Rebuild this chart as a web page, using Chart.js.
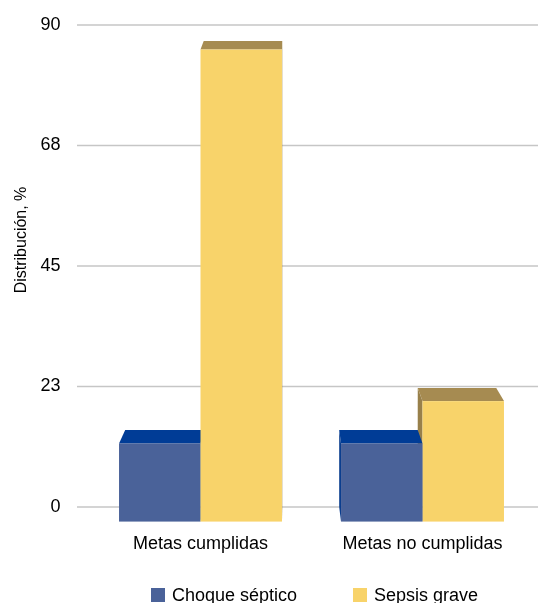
<!DOCTYPE html>
<html lang="es">
  <head>
    <meta charset="UTF-8" />
    <title>Distribución</title>
    <script src="https://cdn.jsdelivr.net/npm/chart.js"></script>
    <style>
      body { margin: 0; width: 538px; height: 603px; overflow: hidden; position: relative; background: #fff; }
      #legend { position: absolute; left: 151px; top: 585px; font: 18px "Liberation Sans", Arial, sans-serif; color: #000; white-space: nowrap; }
      .item { display: inline-block; width: 202px; line-height: 20px; }
      .box { display: inline-block; width: 14px; height: 14px; margin-right: 7px; vertical-align: -1px; }
    </style>
  </head>
  <body>
    <canvas id="chart" width="538" height="603"></canvas>
    <div id="legend"></div>

    <script>
      // data
      const categories = ["Metas cumplidas", "Metas no cumplidas"];
      const seriesNames = ["Choque séptico", "Sepsis grave"];
      const choqueSeptico = [14.4, 14.4];
      const sepsisGrave = [87, 22.2];
      const tickValues = [0, 22.5, 45, 67.5, 90];

      // face colours: front, top, side
      const faces = [
        { front: "#4a6299", top: "#003c96", side: "#0b3e8e" },
        { front: "#f8d36a", top: "#a68b51", side: "#98804a" },
      ];

      // fake perspective: vanishing point and depth factors
      const VX = 290, VY = -600, KX = 0.964, KY = 0.987;
      const backX = (f) => VX + (f - VX) * KX;
      const frontY = (b) => VY + (b - VY) / KY;

      function poly(ctx, pts, color) {
        ctx.beginPath();
        ctx.moveTo(pts[0][0], pts[0][1]);
        for (let i = 1; i < pts.length; i++) ctx.lineTo(pts[i][0], pts[i][1]);
        ctx.closePath();
        ctx.fillStyle = color;
        ctx.fill();
      }

      const bars3d = {
        id: "bars3d",
        beforeDatasetsDraw(chart) {
          const ctx = chart.ctx;
          const y = chart.scales.y;

          // grid lines sit on the back wall, a bit wider than the plot
          ctx.save();
          ctx.strokeStyle = "#c6c6c6";
          ctx.lineWidth = 1.5;
          y.ticks.forEach((t) => {
            const py = y.getPixelForValue(t.value);
            ctx.beginPath();
            ctx.moveTo(77, py);
            ctx.lineTo(538, py);
            ctx.stroke();
          });

          // gather bars, draw the ones far from the vanishing point first
          const list = [];
          chart.data.datasets.forEach((ds, i) => {
            chart.getDatasetMeta(i).data.forEach((el) => {
              const p = el.getProps(["x", "y", "base", "width"], true);
              list.push({ p, c: faces[i] });
            });
          });
          list.sort((a, b) => Math.abs(b.p.x - VX) - Math.abs(a.p.x - VX));

          list.forEach(({ p, c }) => {
            const l = p.x - p.width / 2, r = p.x + p.width / 2;
            const top = frontY(p.y), bot = frontY(p.base);
            const bl = backX(l), br = backX(r);
            if (VX < l) poly(ctx, [[l, top], [bl, p.y], [bl, p.base], [l, bot]], c.side);
            if (VX > r) poly(ctx, [[r, top], [br, p.y], [br, p.base], [r, bot]], c.side);
            poly(ctx, [[l, top], [bl, p.y], [br, p.y], [r, top]], c.top);
            ctx.fillStyle = c.front;
            ctx.fillRect(l, top, r - l, bot - top);
          });
          ctx.restore();
          return false;
        },
        afterDraw(chart) {
          const ctx = chart.ctx;
          ctx.save();
          ctx.translate(21.5, 240);
          ctx.rotate(-Math.PI / 2);
          ctx.font = '16px "Liberation Sans", Arial, sans-serif';
          ctx.fillStyle = "#000";
          ctx.textAlign = "center";
          ctx.textBaseline = "middle";
          ctx.fillText("Distribución, %", 0, 0);
          ctx.restore();
        },
      };

      const font = { family: '"Liberation Sans", Arial, sans-serif', size: 18 };

      const chart = new Chart(document.getElementById("chart"), {
        type: "bar",
        data: {
          labels: categories,
          datasets: [
            { label: seriesNames[0], data: choqueSeptico, backgroundColor: faces[0].front },
            { label: seriesNames[1], data: sepsisGrave, backgroundColor: faces[1].front },
          ],
        },
        options: {
          responsive: false,
          animation: false,
          layout: { padding: { top: 25, right: 4.5, left: 0, bottom: 0 } },
          datasets: { bar: { categoryPercentage: 0.734, barPercentage: 1 } },
          plugins: { legend: { display: false }, tooltip: { enabled: false } },
          scales: {
            x: {
              grid: { display: false },
              border: { display: false },
              ticks: { font, color: "#000", padding: 18 },
              afterFit: (s) => { s.height = 96; },
            },
            y: {
              min: 0,
              max: 90,
              grid: { display: false, drawTicks: false },
              border: { display: false },
              afterBuildTicks: (s) => { s.ticks = tickValues.map((v) => ({ value: v })); },
              ticks: { font, color: "#000", padding: 29, callback: (v) => Math.round(v) },
              afterFit: (s) => {
                s.width = 89.5;
                s.paddingTop = 0;
                s.paddingBottom = 0;
              },
            },
          },
        },
        plugins: [bars3d],
      });

      // legend as plain html under the plot
      const legendEl = document.getElementById("legend");
      chart.data.datasets.forEach((ds) => {
        const item = document.createElement("span");
        item.className = "item";
        item.innerHTML = `<span class="box" style="background:${ds.backgroundColor}"></span>${ds.label}`;
        legendEl.appendChild(item);
      });
    </script>
  </body>
</html>
